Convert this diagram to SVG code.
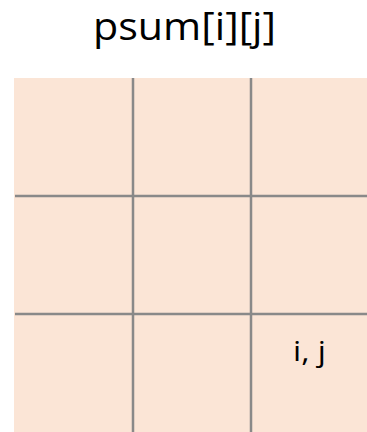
<svg xmlns="http://www.w3.org/2000/svg" width="367" height="432" viewBox="0 0 367 432">
<style>
.t{font-family:"Open Sans","Liberation Sans",sans-serif;fill:#000;text-anchor:middle}
.g{stroke:#898989;stroke-width:2.5;fill:none}
</style>
<rect width="367" height="432" fill="#fff"/>
<text class="t" x="184.5" y="40" font-size="38" textLength="183" lengthAdjust="spacingAndGlyphs">psum[i][j]</text>
<g id="grid">
<rect x="14" y="78" width="353" height="354" fill="#FBE5D6"/>
</g>
<g id="connectors">
<line class="g" x1="133" y1="78" x2="133" y2="432"/>
<line class="g" x1="251" y1="78" x2="251" y2="432"/>
<line class="g" x1="15" y1="196" x2="367" y2="196"/>
<line class="g" x1="15" y1="314" x2="367" y2="314"/>
</g>
<g id="cell-ij">
<text class="t" x="309.5" y="361" font-size="28" textLength="33" lengthAdjust="spacingAndGlyphs">i, j</text>
</g>
</svg>
